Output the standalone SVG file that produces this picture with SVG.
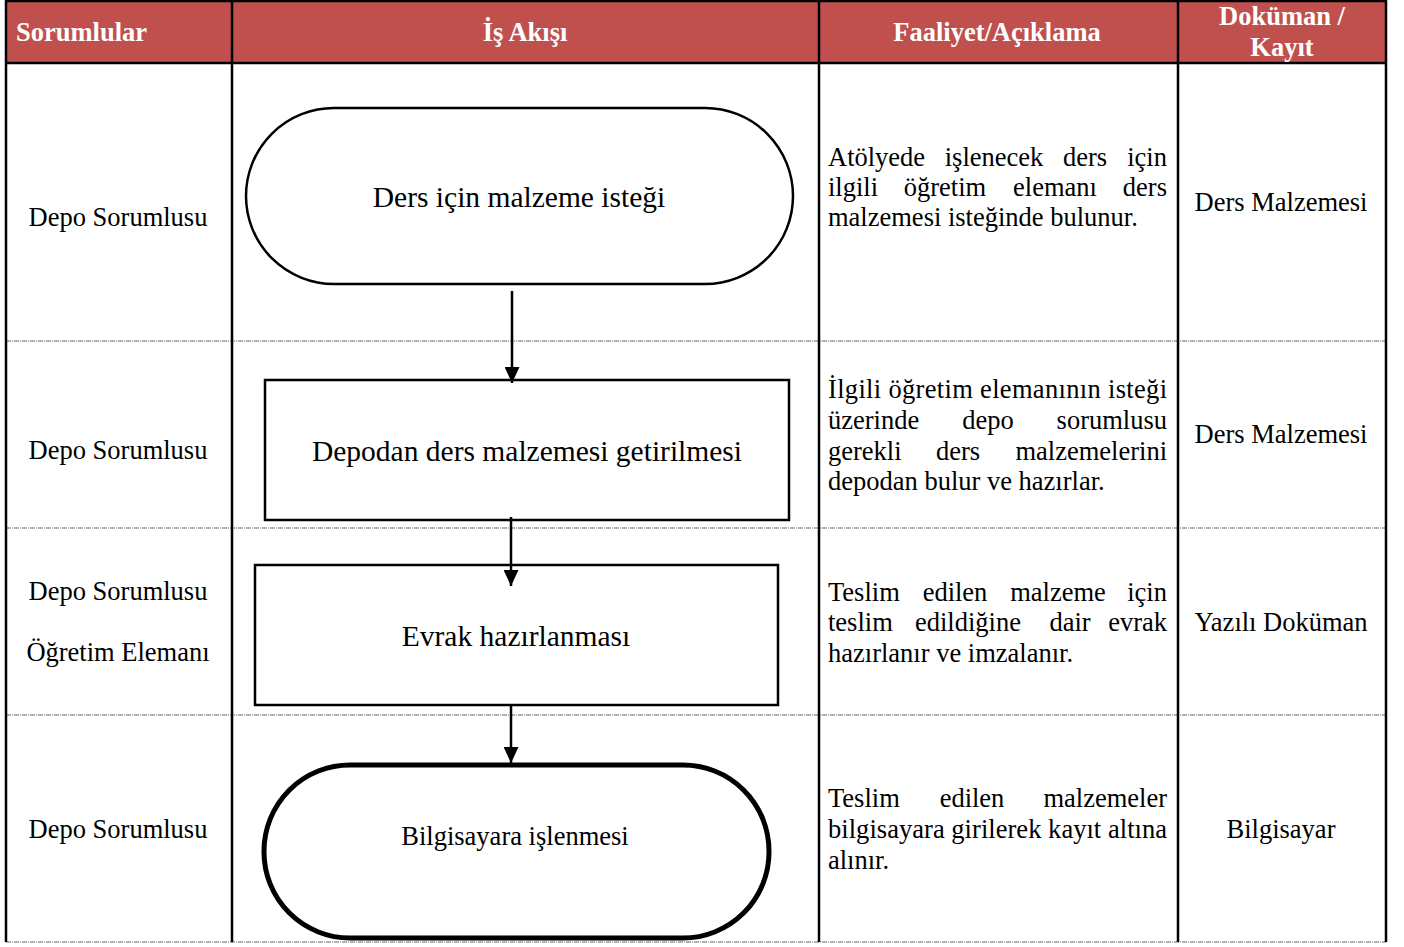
<svg xmlns="http://www.w3.org/2000/svg" width="1404" height="947" viewBox="0 0 1404 947">
<style>
.hdr{font-family:"Liberation Serif",serif;font-weight:bold;font-size:26.5px;fill:#fff}
.t{font-family:"Liberation Serif",serif;font-size:26.5px;fill:#000}
.n{font-family:"Liberation Serif",serif;font-size:29.5px;fill:#000;text-anchor:middle}
.c{text-anchor:middle}
.e{text-anchor:end}
.sep{stroke:#666;stroke-width:1;stroke-dasharray:5 1 1 1;fill:none}
.v{stroke:#000;stroke-width:2.5;fill:none}
.shape{fill:#fff;stroke:#000;stroke-width:2.5}
.conn{stroke:#000;stroke-width:2.5;fill:none}
</style>
<defs>
<marker id="ah" markerWidth="16" markerHeight="15" refX="16" refY="7.5" orient="auto" markerUnits="userSpaceOnUse">
<path d="M0,0 L16,7.5 L0,15 Z" fill="#000"/>
</marker>
</defs>
<rect width="1404" height="947" fill="#fff"/>
<g id="header">
<rect x="6" y="1" width="1380" height="62" fill="#C0504D"/>
<line x1="6" y1="1" x2="1386" y2="1" class="v"/>
<line x1="6" y1="63" x2="1386" y2="63" class="v"/>
<text x="16" y="41" class="hdr">Sorumlular</text>
<text x="525" y="41" class="hdr c">İş Akışı</text>
<text x="997" y="41" class="hdr c">Faaliyet/Açıklama</text>
<text x="1282" y="25" class="hdr c">Doküman /</text>
<text x="1282" y="56" class="hdr c">Kayıt</text>
</g>
<g id="grid">
<line x1="6" y1="341" x2="1386" y2="341" class="sep"/>
<line x1="6" y1="528" x2="1386" y2="528" class="sep"/>
<line x1="6" y1="715" x2="1386" y2="715" class="sep"/>
<line x1="6" y1="942" x2="1386" y2="942" class="sep"/>
<line x1="6" y1="0" x2="6" y2="942" class="v"/>
<line x1="232" y1="0" x2="232" y2="942" class="v"/>
<line x1="819" y1="0" x2="819" y2="942" class="v"/>
<line x1="1178" y1="0" x2="1178" y2="942" class="v"/>
<line x1="1386" y1="0" x2="1386" y2="942" class="v"/>
</g>
<g id="col-sorumlular" class="t">
<text x="118" y="226" class="c">Depo Sorumlusu</text>
<text x="118" y="459" class="c">Depo Sorumlusu</text>
<text x="118" y="600" class="c">Depo Sorumlusu</text>
<text x="118" y="661" class="c">Öğretim Elemanı</text>
<text x="118" y="838" class="c">Depo Sorumlusu</text>
</g>
<g id="node1">
<rect x="246" y="108" width="547" height="176" rx="88" ry="88" class="shape"/>
<text x="519" y="207" class="n">Ders için malzeme isteği</text>
</g>
<g id="node2">
<rect x="265" y="380" width="524" height="140" class="shape"/>
<text x="527" y="461" class="n">Depodan ders malzemesi getirilmesi</text>
</g>
<g id="node3">
<rect x="255" y="565" width="523" height="140" class="shape"/>
<text x="516" y="646" class="n">Evrak hazırlanması</text>
</g>
<g id="node4">
<rect x="264" y="765" width="505" height="173" rx="86" ry="86" fill="#fff" stroke="#000" stroke-width="5"/>
<text x="515" y="845" class="n" style="font-size:26.5px">Bilgisayara işlenmesi</text>
</g>
<g id="connectors">
<line x1="512" y1="291" x2="512" y2="383" class="conn" marker-end="url(#ah)"/>
<line x1="511" y1="517" x2="511" y2="586" class="conn" marker-end="url(#ah)"/>
<line x1="511" y1="705" x2="511" y2="763" class="conn" marker-end="url(#ah)"/>
</g>
<g id="col-aciklama" class="t">
<text x="828" y="166">Atölyede</text><text x="994" y="166" class="c">işlenecek</text><text x="1085" y="166" class="c">ders</text><text x="1167" y="166" class="e">için</text>
<text x="828" y="196">ilgili</text><text x="945" y="196" class="c">öğretim</text><text x="1055" y="196" class="c">elemanı</text><text x="1167" y="196" class="e">ders</text>
<text x="828" y="226">malzemesi isteğinde bulunur.</text>
<text x="828" y="398" textLength="339" lengthAdjust="spacing">İlgili öğretim elemanının isteği</text>
<text x="828" y="429">üzerinde</text><text x="988" y="429" class="c">depo</text><text x="1167" y="429" class="e">sorumlusu</text>
<text x="828" y="460">gerekli</text><text x="958" y="460" class="c">ders</text><text x="1167" y="460" class="e">malzemelerini</text>
<text x="828" y="490">depodan bulur ve hazırlar.</text>
<text x="828" y="601">Teslim</text><text x="955" y="601" class="c">edilen</text><text x="1058" y="601" class="c">malzeme</text><text x="1167" y="601" class="e">için</text>
<text x="828" y="631">teslim</text><text x="968" y="631" class="c">edildiğine</text><text x="1070" y="631" class="c">dair</text><text x="1167" y="631" class="e">evrak</text>
<text x="828" y="662">hazırlanır ve imzalanır.</text>
<text x="828" y="807">Teslim</text><text x="972" y="807" class="c">edilen</text><text x="1167" y="807" class="e">malzemeler</text>
<text x="828" y="838" textLength="339" lengthAdjust="spacing">bilgisayara girilerek kayıt altına</text>
<text x="828" y="869">alınır.</text>
</g>
<g id="col-dokuman" class="t">
<text x="1281" y="211" class="c">Ders Malzemesi</text>
<text x="1281" y="443" class="c">Ders Malzemesi</text>
<text x="1281" y="631" class="c">Yazılı Doküman</text>
<text x="1281" y="838" class="c">Bilgisayar</text>
</g>
</svg>
